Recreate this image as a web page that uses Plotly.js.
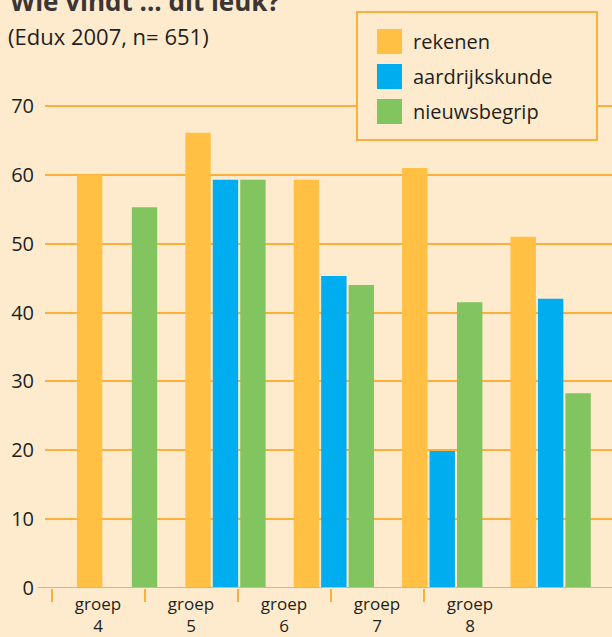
<!DOCTYPE html>
<html>
<head>
<meta charset="utf-8">
<script src="https://cdn.plot.ly/plotly-3.0.1.min.js"></script>
<style>
  html, body { margin: 0; padding: 0; background: #feebcd; }
  #chart { width: 612px; height: 637px; }
</style>
</head>
<body>
<div id="chart"></div>
<script>
// ---- data ----
const categories = ['groep 4', 'groep 5', 'groep 6', 'groep 7', 'groep 8'];
const tickLabels = ['groep<br>4', 'groep<br>5', 'groep<br>6', 'groep<br>7', 'groep<br>8'];
const seriesNames = ['rekenen', 'aardrijkskunde', 'nieuwsbegrip'];
const rekenen = [60.0, 66.1, 59.3, 61.0, 51.0];
const aardrijkskunde = [null, 59.3, 45.3, 19.9, 42.0];
const nieuwsbegrip = [55.3, 59.3, 44.0, 41.5, 28.3];
const yTickValues = [0, 10, 20, 30, 40, 50, 60, 70];
const titleText = 'Wie vindt ... dit leuk?';
const subtitleText = '(Edux 2007, n= 651)';

// ---- styles ----
const colors = ['#ffc044', '#00adee', '#82c45f'];
const bg = '#feebcd';
const orange = '#fbb03b';
const textColor = '#231f20';
const FONT = 'Open Sans, Noto Sans, sans-serif';

const W = 612, H = 637;
const M = { l: 45, r: 0, t: 0, b: 49 };
const PW = W - M.l - M.r, PH = H - M.t - M.b;
const px = x => (x - M.l) / PW;      // pixel -> paper x
const py = y => (M.t + PH - y) / PH; // pixel -> paper y

const values = [rekenen, aardrijkskunde, nieuwsbegrip];
const traces = values.map((v, i) => ({
  type: 'bar', x: categories, y: v, name: seriesNames[i],
  marker: { color: colors[i], line: { width: 0 } },
  showlegend: false, hoverinfo: 'x+y+name'
}));
traces.push({ type: 'scatter', x: [], y: [], xaxis: 'x2', yaxis: 'y', showlegend: false, hoverinfo: 'skip' });
traces.push({ type: 'scatter', x: [], y: [], xaxis: 'x3', yaxis: 'y', showlegend: false, hoverinfo: 'skip' });

const shapes = [];
const annotations = [];
// axis line at zero, extending slightly left
shapes.push({ type: 'line', xref: 'paper', yref: 'y', x0: px(38), x1: 1, y0: 0, y1: 0,
  line: { color: orange, width: 2 }, layer: 'above' });
// legend box
shapes.push({ type: 'rect', xref: 'paper', yref: 'paper', x0: px(357), x1: px(597), y0: py(12), y1: py(140),
  fillcolor: bg, line: { color: orange, width: 2 }, layer: 'above' });
seriesNames.forEach((n, i) => {
  const top = 29 + i * 35;
  shapes.push({ type: 'rect', xref: 'paper', yref: 'paper', x0: px(377), x1: px(402), y0: py(top), y1: py(top + 25),
    fillcolor: colors[i], line: { width: 0 }, layer: 'above' });
  annotations.push({ xref: 'paper', yref: 'paper', x: px(411), y: py(top + 12.5), xanchor: 'left', yanchor: 'middle',
    text: n, showarrow: false, font: { family: FONT, size: 20, color: textColor } });
});
annotations.push({ xref: 'paper', yref: 'paper', x: px(8), y: py(1.5), xanchor: 'left', yanchor: 'middle',
  text: '<b>' + titleText + '</b>', showarrow: false, font: { family: FONT, size: 26, color: '#3b3536' } });
annotations.push({ xref: 'paper', yref: 'paper', x: px(6), y: py(36), xanchor: 'left', yanchor: 'middle',
  text: subtitleText, showarrow: false, font: { family: FONT, size: 22, color: textColor } });

const layout = {
  width: W, height: H, margin: M,
  paper_bgcolor: bg, plot_bgcolor: bg,
  showlegend: false,
  barmode: 'group', bargap: 0.24, bargroupgap: 0.075,
  font: { family: FONT, color: textColor },
  xaxis: { type: 'category', range: [-0.665, 4.566], showticklabels: false, ticks: '', showgrid: false,
    showline: false, zeroline: false, fixedrange: true },
  xaxis2: { overlaying: 'x', anchor: 'y', side: 'bottom', type: 'linear', range: [-0.57, 5.527],
    tickvals: [-0.5, 0.5, 1.5, 2.5, 3.5], ticks: 'outside', ticklen: 13, tickwidth: 2, tickcolor: orange,
    showticklabels: false, showgrid: false, zeroline: false, showline: false },
  xaxis3: { overlaying: 'x', anchor: 'y', side: 'bottom', type: 'linear', range: [-0.57, 5.527],
    tickvals: [0, 1, 2, 3, 4], ticktext: tickLabels, ticks: '', ticklabelstandoff: 4,
    tickfont: { family: FONT, size: 17, color: textColor },
    showgrid: false, zeroline: false, showline: false },
  yaxis: { range: [0, PH / 6.886], tickvals: yTickValues, ticks: '', showgrid: true, gridcolor: orange,
    gridwidth: 2, zeroline: false, showline: false, ticklabelstandoff: 10,
    tickfont: { family: FONT, size: 20, color: textColor }, fixedrange: true },
  shapes: shapes,
  annotations: annotations
};

Plotly.newPlot('chart', traces, layout, { displayModeBar: false, staticPlot: true });
</script>
</body>
</html>
